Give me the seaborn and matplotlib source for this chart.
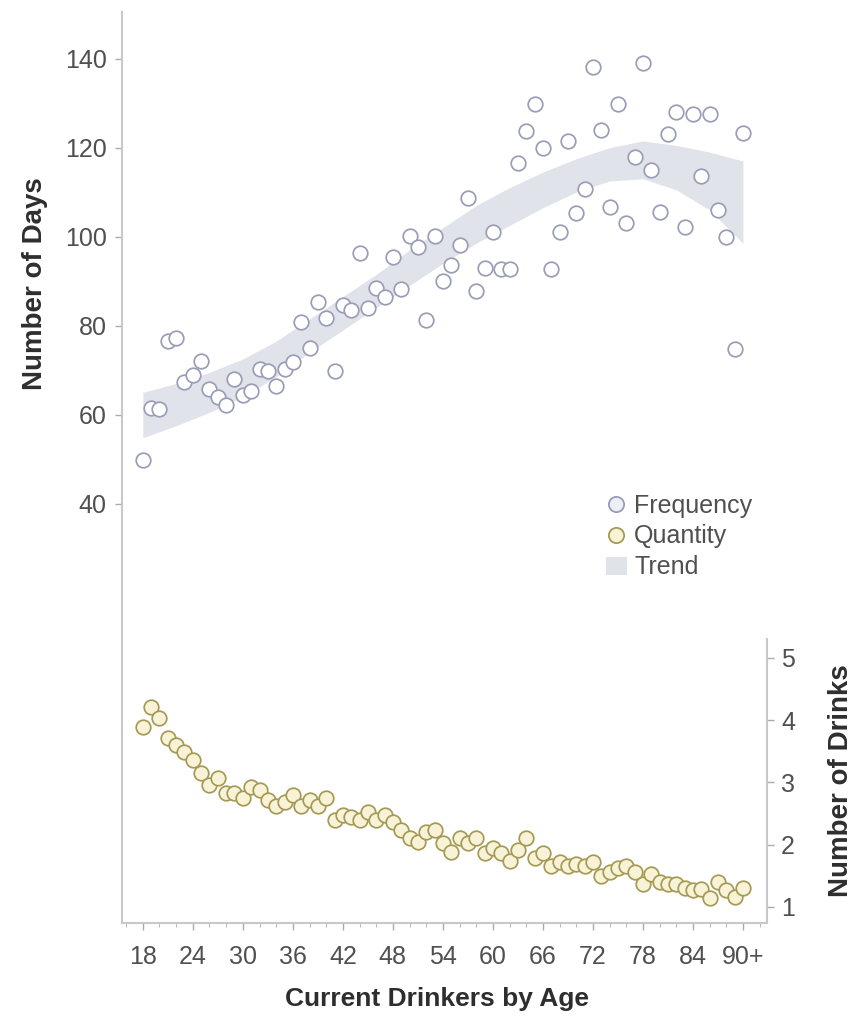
import matplotlib
matplotlib.use("Agg")
import matplotlib.pyplot as plt
from matplotlib.lines import Line2D
from matplotlib.patches import Patch
from matplotlib.ticker import MultipleLocator
import seaborn as sns
import pandas as pd
import numpy as np

# ====================================================
# DATA
# ====================================================

ages = list(range(18, 91))

frequency = [
    49.8, 61.5, 61.3, 76.5, 77.1, 67.3, 68.9, 72.0, 65.7, 64.0,
    62.2, 68.0, 64.4, 65.3, 70.2, 69.8, 66.4, 70.2, 71.8, 80.9,
    74.9, 85.4, 81.8, 69.8, 84.7, 83.6, 96.2, 84.0, 88.5, 86.5,
    95.5, 88.3, 100.2, 97.7, 81.2, 100.2, 90.1, 93.7, 98.2, 108.7,
    87.7, 93.0, 101.0, 92.8, 92.8, 116.5, 123.7, 129.7, 119.9, 92.8,
    101.0, 121.4, 105.3, 110.7, 138.2, 123.9, 106.7, 129.7, 103.1, 117.9,
    139.1, 114.9, 105.5, 123.0, 128.1, 102.2, 127.5, 113.6, 127.5, 106.0,
    100.0, 74.7, 123.2,
]

quantity = [
    3.89, 4.21, 4.03, 3.71, 3.60, 3.49, 3.36, 3.15, 2.96, 3.07,
    2.83, 2.83, 2.75, 2.93, 2.88, 2.72, 2.62, 2.69, 2.80, 2.62,
    2.72, 2.62, 2.75, 2.40, 2.48, 2.44, 2.40, 2.52, 2.40, 2.48,
    2.36, 2.24, 2.11, 2.04, 2.20, 2.24, 2.03, 1.88, 2.11, 2.03,
    2.11, 1.87, 1.95, 1.87, 1.74, 1.91, 2.11, 1.79, 1.87, 1.66,
    1.72, 1.66, 1.69, 1.66, 1.72, 1.50, 1.56, 1.63, 1.66, 1.56,
    1.37, 1.53, 1.40, 1.37, 1.37, 1.30, 1.27, 1.29, 1.14, 1.40,
    1.27, 1.16, 1.30,
]

# trend band (lower / upper edge) at sampled ages
trend_ages = [18, 22, 26, 30, 34, 38, 42, 46, 50, 54, 58, 62, 66, 70, 74, 78, 82, 86, 90]
trend_low = [54.8, 57.5, 60.5, 64.0, 68.5, 74.0, 79.0, 84.0, 89.0, 94.0, 98.5, 102.5, 106.5, 110.0, 112.5, 113.0, 110.5, 106.0, 98.5]
trend_high = [65.0, 67.0, 69.5, 72.5, 76.5, 81.5, 86.5, 91.5, 97.0, 102.0, 107.0, 111.0, 114.5, 117.5, 120.0, 121.5, 120.5, 119.0, 117.0]

x_ticks = [18, 24, 30, 36, 42, 48, 54, 60, 66, 72, 78, 84, 90]
x_labels = ['18', '24', '30', '36', '42', '48', '54', '60', '66', '72', '78', '84', '90+']

df = pd.DataFrame({'age': ages, 'frequency': frequency, 'quantity': quantity})

# ====================================================
# STYLE
# ====================================================

sns.set_theme(style="white")
plt.rcParams['font.family'] = ['Liberation Sans', 'DejaVu Sans']

freq_edge = '#9a9db6'
qty_edge = '#a59a55'
qty_face = '#f8f3d6'
band_col = '#e1e3eb'
txt_col = '#505050'
spine_col = '#c8c8c8'

fig = plt.figure(figsize=(8.59, 10.28), dpi=100)
ax = fig.add_axes([0.142, 0.102, 0.751, 0.886])

# ====================================================
# FREQUENCY + TREND (left axis)
# ====================================================

ax.fill_between(trend_ages, trend_low, trend_high, color=band_col, linewidth=0, zorder=1)

sns.scatterplot(data=df, x='age', y='frequency', ax=ax, s=110,
                facecolor='white', edgecolor=freq_edge, linewidth=1.25,
                zorder=3, legend=False)

ax.set_xlim(15.5, 92.9)
ax.set_ylim(-54.3, 150.4)
ax.set_yticks([40, 60, 80, 100, 120, 140])
ax.set_xticks(x_ticks)
ax.set_xticklabels(x_labels)
ax.xaxis.set_minor_locator(MultipleLocator(2))

ax.set_xlabel("Current Drinkers by Age", fontsize=19, fontweight='bold',
              color='#2e2e2e')
ax.xaxis.set_label_coords((437 - 122) / 645, -(987 - 923) / 911)
ax.set_ylabel("Number of Days", fontsize=20, fontweight='bold', color='#2e2e2e')
ax.yaxis.set_label_coords(-0.115, (923 - 283) / 911)

# ====================================================
# QUANTITY (right axis)
# ====================================================

ax2 = ax.twinx()
sns.scatterplot(data=df, x='age', y='quantity', ax=ax2, s=110,
                facecolor=qty_face, edgecolor=qty_edge, linewidth=1.25,
                zorder=3, legend=False)
ax2.set_ylim(0.74, 15.37)
ax2.set_yticks([1, 2, 3, 4, 5])
ax2.set_ylabel("Number of Drinks", fontsize=20, fontweight='bold',
               color='#2e2e2e')
ax2.yaxis.set_label_coords(1.095, (923 - 780) / 911)

# spines
ax.spines['top'].set_visible(False)
ax2.spines['top'].set_visible(False)
ax.spines['right'].set_visible(False)
ax2.spines['left'].set_visible(False)
ax2.spines['bottom'].set_visible(False)
for sp in (ax.spines['left'], ax.spines['bottom'], ax2.spines['right']):
    sp.set_color(spine_col)
    sp.set_linewidth(1.5)
ax2.spines['right'].set_bounds(0.74, 5.3)

ax.tick_params(axis='both', which='major', labelsize=18, colors=txt_col,
               length=5, width=1, direction='out', color='#aaaaaa',
               left=True, bottom=True, pad=6)
ax.tick_params(axis='x', which='major', pad=11)
ax.tick_params(axis='x', which='minor', length=3, width=0.8, color='#bbbbbb', bottom=True)
ax2.tick_params(axis='y', labelsize=18, colors=txt_col, length=5, width=1,
                color='#aaaaaa', right=True, pad=5)
for lbl in ax.get_xticklabels() + ax.get_yticklabels() + ax2.get_yticklabels():
    lbl.set_color(txt_col)

# ====================================================
# LEGEND
# ====================================================

handles = [
    Line2D([], [], marker='o', linestyle='none', markersize=11,
           markerfacecolor='#eceef8', markeredgecolor=freq_edge, markeredgewidth=1.3),
    Line2D([], [], marker='o', linestyle='none', markersize=11,
           markerfacecolor=qty_face, markeredgecolor=qty_edge, markeredgewidth=1.3),
    Patch(facecolor=band_col, edgecolor='none'),
]
leg = fig.legend(handles, ['Frequency', 'Quantity', 'Trend'],
                 loc='upper left', bbox_to_anchor=(588 / 859, 1 - 476 / 1028),
                 frameon=False, fontsize=18, labelcolor=txt_col,
                 handlelength=0.85, handletextpad=0.3, labelspacing=0.28,
                 borderpad=0.2)

fig.savefig("out.png", dpi=100)
plt.close(fig)
